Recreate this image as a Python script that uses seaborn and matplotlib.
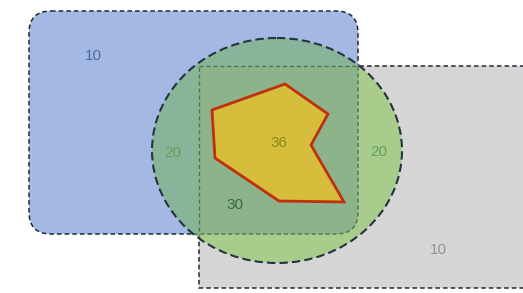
import matplotlib
matplotlib.use("Agg")
import numpy as np
import matplotlib.pyplot as plt
import seaborn as sns
from matplotlib.patches import FancyBboxPatch, Rectangle, Ellipse, Polygon

# ---- data ----
region_labels = ["10", "20", "36", "20", "30", "10"]
label_x = [93, 173, 279, 379, 235, 438]
label_y = [56, 153, 143, 152, 205, 250]
label_colors = ["#4a68a6", "#63a05c", "#8a8a1e", "#63a05c", "#3c6a3c", "#939393"]

# shapes (pixel geometry)
blue_box = (29, 11, 329, 223)      # x, y, w, h
blue_radius = 22
gray_box = (199, 66, 340, 222)
ellipse_center = (277, 150.5)
ellipse_size = (250, 225)
poly_x = [212, 285, 328, 311, 344, 279, 215]
poly_y = [110, 84, 114, 145, 202, 201, 158]

sns.set_theme(style="white")
plt.rcParams["font.family"] = ["Liberation Sans", "DejaVu Sans"]

fig = plt.figure(figsize=(5.23, 2.93), dpi=100)
ax = fig.add_axes([0, 0, 1, 1])
ax.set_xlim(0, 523)
ax.set_ylim(293, 0)
ax.axis("off")

dash = (0, (3, 2))

def blue_patch(**kw):
    x, y, w, h = blue_box
    return FancyBboxPatch((x + blue_radius, y + blue_radius), w - 2 * blue_radius, h - 2 * blue_radius,
                          boxstyle=f"round,pad={blue_radius}", **kw)

def gray_patch(**kw):
    x, y, w, h = gray_box
    return Rectangle((x, y), w, h, **kw)

def ell_patch(**kw):
    return Ellipse(ellipse_center, ellipse_size[0], ellipse_size[1], **kw)

# base fills
ax.add_patch(blue_patch(facecolor="#a3b9e3", edgecolor="none", zorder=1))
ax.add_patch(gray_patch(facecolor="#d6d6d6", edgecolor="none", zorder=1))
# intersection blue & gray (outside ellipse)
bi = blue_patch(facecolor="#bcc5d6", edgecolor="none", zorder=1.5)
ax.add_patch(bi)
gclip = gray_patch(facecolor="none", edgecolor="none")
ax.add_patch(gclip)
bi.set_clip_path(gclip)

# dark outlines (under ellipse)
ax.add_patch(blue_patch(facecolor="none", edgecolor="#1f2a36", lw=1.1, linestyle=dash, zorder=2))
ax.add_patch(gray_patch(facecolor="none", edgecolor="#1f2a36", lw=1.1, linestyle=dash, zorder=2))

# ellipse fills
ax.add_patch(ell_patch(facecolor="#a8cc8c", edgecolor="none", zorder=3))
eb = blue_patch(facecolor="#88b59a", edgecolor="none", zorder=4)
ax.add_patch(eb)
eclip = ell_patch(facecolor="none", edgecolor="none")
ax.add_patch(eclip)
eb.set_clip_path(eclip)

# ellipse ∩ gray polygon, clipped to blue
t = np.linspace(0, 2 * np.pi, 400)
ex = ellipse_center[0] + ellipse_size[0] / 2 * np.cos(t)
ey = ellipse_center[1] + ellipse_size[1] / 2 * np.sin(t)
ex = np.maximum(ex, gray_box[0])
ey = np.maximum(ey, gray_box[1])
eg = Polygon(np.column_stack([ex, ey]), closed=True, facecolor="#8cb38a", edgecolor="none", zorder=5)
ax.add_patch(eg)
bclip = blue_patch(facecolor="none", edgecolor="none")
ax.add_patch(bclip)
eg.set_clip_path(bclip)

# muted outlines inside ellipse
bo2 = blue_patch(facecolor="none", edgecolor="#4f7450", lw=1.0, linestyle=dash, zorder=7)
ax.add_patch(bo2)
bo2.set_clip_path(eclip)
go2 = gray_patch(facecolor="none", edgecolor="#4f7450", lw=1.0, linestyle=dash, zorder=7)
ax.add_patch(go2)
go2.set_clip_path(eclip)

ax.add_patch(ell_patch(facecolor="none", edgecolor="#26323e", lw=1.5, linestyle=(0, (4, 2)), zorder=8))

# polygon
poly = Polygon(list(zip(poly_x, poly_y)), closed=True, facecolor="#d6bd3c",
               edgecolor="#c0300f", lw=2.0, joinstyle="miter", zorder=9)
ax.add_patch(poly)

for s, tx, ty, c in zip(region_labels, label_x, label_y, label_colors):
    ax.text(tx, ty, s, ha="center", va="center", fontsize=11, color=c, zorder=10)

fig.savefig("out.png", dpi=100)
